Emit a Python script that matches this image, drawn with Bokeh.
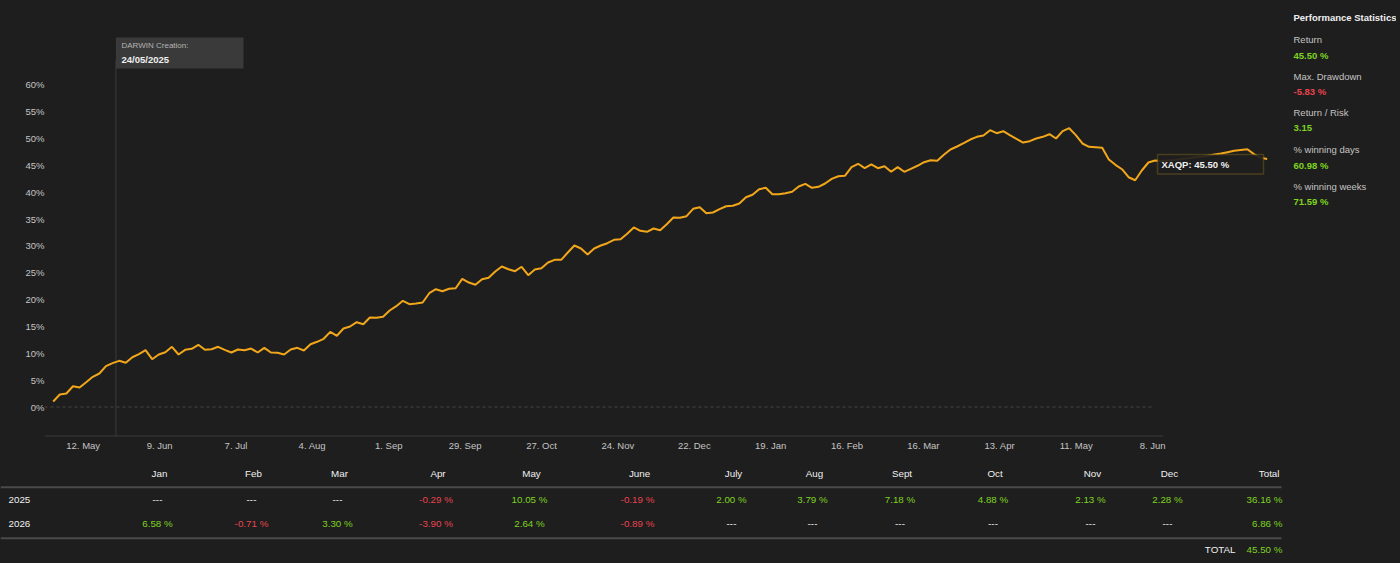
import pandas as pd
from bokeh.plotting import figure
from bokeh.layouts import row, column
from bokeh.models import (Range1d, FixedTicker, PrintfTickFormatter, BoxAnnotation,
                          Label, ColumnDataSource, GlobalInlineStyleSheet)
from bokeh.core.properties import value
from bokeh.embed import file_html
from bokeh.resources import INLINE


# cumulative return of the DARWIN, %
returns = [
    1.02, 2.33, 2.51, 3.87, 3.63, 4.62, 5.62, 6.24, 7.60, 8.16, 8.60, 8.23, 9.27, 9.83, 10.58,
    8.90, 9.78, 10.20, 11.21, 9.78, 10.65, 10.84, 11.58, 10.65, 10.76, 11.21, 10.65, 10.15, 10.71,
    10.58, 10.89, 10.15, 11.02, 10.15, 10.09, 9.78, 10.71, 11.02, 10.52, 11.69, 12.14, 12.70,
    14.00, 13.26, 14.62, 14.99, 15.79, 15.42, 16.67,
    16.61, 16.80, 17.97, 18.77, 19.78, 19.15, 19.27, 19.46, 21.19, 21.94, 21.56, 22.01, 22.12,
    23.87, 23.18, 22.76, 23.80, 24.06, 25.23, 26.16, 25.66, 25.29, 26.11, 24.54, 25.61, 25.85,
    26.91, 27.41, 27.41, 28.77, 30.07, 29.52, 28.40, 29.52, 30.07, 30.50, 31.13, 31.25, 32.25,
    33.43, 32.81, 32.62, 33.24, 32.93, 34.04, 35.29, 35.23, 35.53,
    36.91, 37.21, 36.09, 36.22, 36.84, 37.39, 37.47, 37.90, 39.07, 39.52, 40.56, 40.82, 39.63,
    39.63, 39.81, 40.07, 41.06, 41.56, 40.82, 41.00, 41.62, 42.49, 42.98, 43.05, 44.66, 45.29,
    44.47, 45.16, 44.47, 44.84, 43.80, 44.66, 43.80, 44.36, 44.92, 45.59, 45.96, 45.85, 46.96,
    47.95, 48.51, 49.12, 49.81, 50.31, 50.56, 51.55, 50.99, 51.36,
    50.62, 49.94, 49.25, 49.50, 50.00, 50.31, 50.80, 50.00, 51.36, 51.92, 50.62, 49.07, 48.45,
    48.38, 48.27, 46.09, 45.10, 44.28, 42.79, 42.23, 44.04, 45.53, 45.90,
    45.80, 45.90, 46.00, 46.20, 46.30, 46.50, 46.60, 46.80, 47.00,
    47.20, 47.45, 47.70, 47.85, 48.00, 47.10, 46.40, 46.20,
]
start_date = "2025-05-01"
end_date = "2026-07-20"
creation_date = "2025-05-24"
tick_dates = pd.date_range("2025-05-12", "2026-06-08", freq="28D")
y_ticks = list(range(0, 65, 5))
ticker_name = "XAQP"

months = ["Jan", "Feb", "Mar", "Apr", "May", "June", "July", "Aug", "Sept", "Oct", "Nov", "Dec"]
years = ["2025", "2026"]
monthly_2025 = [None, None, None, -0.29, 10.05, -0.19, 2.00, 3.79, 7.18, 4.88, 2.13, 2.28]
monthly_2026 = [6.58, -0.71, 3.30, -3.90, 2.64, -0.89, None, None, None, None, None, None]
year_totals = [36.16, 6.86]
grand_total = 45.50

stat_names = ["Return", "Max. Drawdown", "Return / Risk", "% winning days", "% winning weeks"]
stat_values = [45.50, -5.83, 3.15, 60.98, 71.59]
stat_units = [" %", " %", "", " %", " %"]

BG = "#1e1e1e"
LINE = "#f2a71b"
GREEN = "#7ed321"
RED = "#e8434f"
GREY = "#c4c4c4"
WHITE = "#f0f0f0"
FONT_NAME = "Liberation Sans"
FONT = value(FONT_NAME)

# page pixel geometry of the chart
CHART_W, CHART_H = 1285, 458
FRAME_L, FRAME_R, FRAME_T, FRAME_B = 44, 1280, 10, 436
ZERO_Y, PX_PER_PCT = 406.5, 5.37
TICK0_X, PX_PER_DAY = 82.7, 2.728


def ms(ts):
    return pd.Timestamp(ts).value / 1e6


def px_date(px):
    return ms(tick_dates[0] + pd.Timedelta(days=(px - TICK0_X) / PX_PER_DAY))


def px_pct(py):
    return (ZERO_Y - py) / PX_PER_PCT


def fmt(v, unit=" %"):
    return "---" if v is None else f"{v:.2f}{unit}"


def col(v):
    if v is None:
        return WHITE
    return GREEN if v > 0 else RED


# ---- equity chart
dates = pd.date_range(start_date, end_date, periods=len(returns))

p = figure(width=CHART_W, height=CHART_H, x_axis_type="datetime",
           x_range=Range1d(px_date(FRAME_L), px_date(FRAME_R)),
           y_range=Range1d(px_pct(FRAME_B), px_pct(FRAME_T)),
           output_backend="svg", toolbar_location=None,
           min_border_left=FRAME_L, min_border_right=CHART_W - FRAME_R,
           min_border_top=FRAME_T, min_border_bottom=CHART_H - FRAME_B,
           background_fill_color=BG, border_fill_color=BG, outline_line_color=None)
p.grid.visible = False

p.xaxis.ticker = FixedTicker(ticks=[ms(d) for d in tick_dates])
p.xaxis.major_label_overrides = {ms(d): f"{d.day}. {d.strftime('%b')}" for d in tick_dates}
p.yaxis.ticker = FixedTicker(ticks=y_ticks)
p.yaxis.formatter = PrintfTickFormatter(format="%d%%")
for ax in (p.xaxis, p.yaxis):
    ax.axis_line_color = None
    ax.major_tick_line_color = None
    ax.minor_tick_line_color = None
    ax.major_tick_out = 0
    ax.major_tick_in = 0
    ax.minor_tick_out = 0
    ax.major_label_text_color = GREY
    ax.major_label_text_font = FONT_NAME
    ax.major_label_text_font_size = "9.5px"
p.xaxis.major_label_standoff = 3
p.yaxis.major_label_standoff = 0

# axis base line and dashed zero line
p.segment(x0=[px_date(FRAME_L)], y0=[px_pct(FRAME_B)], x1=[px_date(1163)], y1=[px_pct(FRAME_B)],
          line_color="#3a3a3a", line_width=2)
p.segment(x0=[px_date(FRAME_L)], y0=[0], x1=[ms(tick_dates[-1])], y1=[0],
          line_color="#474747", line_width=1, line_dash="3 3")

# creation marker
p.segment(x0=[ms(creation_date)], y0=[px_pct(60)], x1=[ms(creation_date)], y1=[px_pct(FRAME_B)],
          line_color="#3c3c3c", line_width=1)
p.add_layout(BoxAnnotation(left=ms(creation_date), right=px_date(243), top=px_pct(37),
                           bottom=px_pct(68), fill_color="#3a3a3a", fill_alpha=1, line_color=None))
p.add_layout(Label(x=px_date(121), y=px_pct(45), text="DARWIN Creation:", text_color="#b4b4b4",
                   text_font=FONT_NAME, text_font_size="8px", text_baseline="middle"))
p.add_layout(Label(x=px_date(121), y=px_pct(59),
                   text=pd.Timestamp(creation_date).strftime("%d/%m/%Y"), text_color=WHITE,
                   text_font=FONT_NAME, text_font_size="9.5px", text_font_style="bold",
                   text_baseline="middle"))

p.line(dates, returns, line_color=LINE, line_width=2)

# hover box
p.add_layout(BoxAnnotation(left=px_date(1157), right=px_date(1263), top=px_pct(154),
                           bottom=px_pct(173.5), fill_color=BG, fill_alpha=0.92,
                           line_color="#b08a20", line_width=1.5))
p.add_layout(Label(x=px_date(1161), y=px_pct(164), text=f"{ticker_name}: {grand_total:.2f} %",
                   text_color=WHITE, text_font=FONT_NAME, text_font_size="9.5px",
                   text_font_style="bold", text_baseline="middle"))

# ---- statistics panel (its frame gets the chart's top/bottom borders in a row)
STATS_W = 111
s = figure(width=STATS_W, height=CHART_H, x_range=Range1d(0, STATS_W),
           y_range=Range1d(FRAME_B, FRAME_T),
           output_backend="svg", toolbar_location=None, min_border=0,
           min_border_top=FRAME_T, min_border_bottom=CHART_H - FRAME_B,
           x_axis_location=None, y_axis_location=None,
           background_fill_color=BG, border_fill_color=BG, outline_line_color=None)
s.grid.visible = False
s.text(x=[8], y=[17.3], text=["Performance Statistics"], text_color=WHITE, text_font=FONT,
       text_font_size="9.5px", text_font_style="bold", text_baseline="middle")
label_y = [39 + 36.7 * i for i in range(len(stat_names))]
s.text(x=[8] * len(stat_names), y=label_y, text=stat_names, text_color=GREY, text_font=FONT,
       text_font_size="9.5px", text_baseline="middle")
stat_src = ColumnDataSource(dict(
    x=[8] * len(stat_values), y=[v + 15.5 for v in label_y],
    text=[fmt(v, u) for v, u in zip(stat_values, stat_units)],
    color=[col(v) for v in stat_values]))
s.text(x="x", y="y", text="text", text_color="color", source=stat_src, text_font=FONT,
       text_font_size="9.5px", text_font_style="bold", text_baseline="middle")

# ---- monthly table
TABLE_W, TABLE_H = CHART_W + STATS_W, 102
t = figure(width=TABLE_W, height=TABLE_H, x_range=Range1d(0, TABLE_W), y_range=Range1d(TABLE_H, 0),
           output_backend="svg", toolbar_location=None, min_border=0,
           x_axis_location=None, y_axis_location=None,
           background_fill_color=BG, border_fill_color=BG, outline_line_color=None)
t.grid.visible = False

col_x = [159, 253, 339, 437.5, 531, 639, 733, 814, 901.5, 994.5, 1092, 1169]
total_x = 1281
row_y = [41.3, 65.3]
txt = dict(text_font=FONT, text_font_size="9.8px", text_baseline="middle")

t.text(x=col_x, y=[15.3] * 12, text=months, text_color=WHITE, text_align="center", **txt)
t.text(x=[total_x - 2], y=[15.3], text=["Total"], text_color=WHITE, text_align="right", **txt)
t.segment(x0=[0, 0], y0=[28.7, 79.7], x1=[total_x, total_x], y1=[28.7, 79.7],
          line_color="#4a4a4a", line_width=2)

for yr, vals, tot, ry in zip(years, [monthly_2025, monthly_2026], year_totals, row_y):
    t.text(x=[8], y=[ry], text=[yr], text_color=WHITE, text_align="left", **txt)
    src = ColumnDataSource(dict(x=[c - 2 for c in col_x], y=[ry] * 12,
                                text=[fmt(v) for v in vals], color=[col(v) for v in vals]))
    t.text(x="x", y="y", text="text", text_color="color", source=src, text_align="center", **txt)
    t.text(x=[total_x + 1], y=[ry], text=[fmt(tot)], text_color=col(tot), text_align="right", **txt)

t.text(x=[1235], y=[91.3], text=["TOTAL"], text_color=WHITE, text_align="right", **txt)
t.text(x=[total_x + 1], y=[91.3], text=[fmt(grand_total)], text_color=col(grand_total),
       text_align="right", **txt)

layout = column(row(p, s), t)
layout.stylesheets = [GlobalInlineStyleSheet(css="body { background-color: #1e1e1e; }")]

open("out.html", "w").write(file_html(layout, INLINE))
